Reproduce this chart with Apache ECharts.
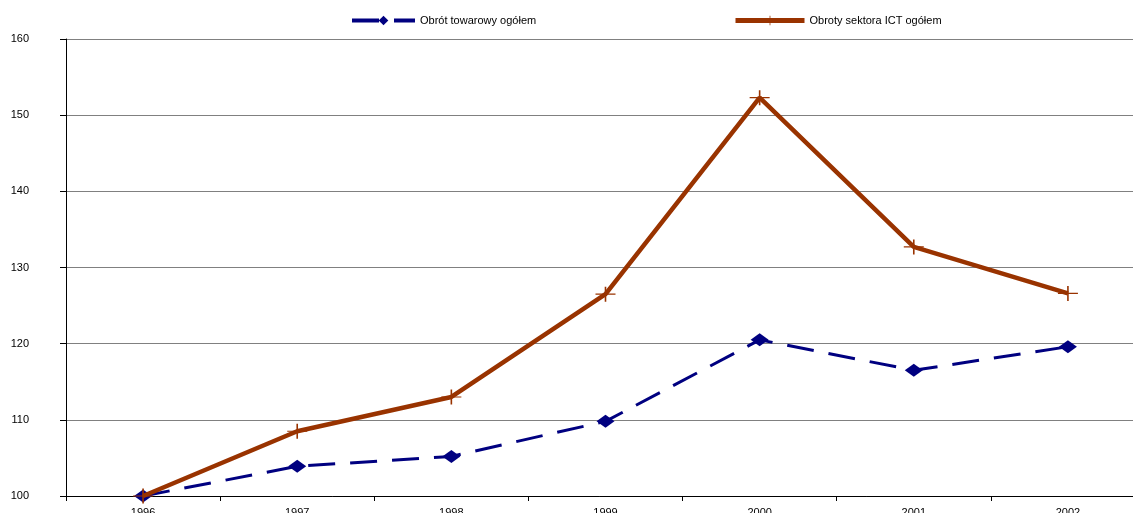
<!DOCTYPE html>
<html>
<head>
<meta charset="utf-8">
<script src="https://cdn.jsdelivr.net/npm/echarts@6/dist/echarts.min.js"></script>
<style>
html,body{margin:0;padding:0;background:#fff;}
#chart{width:1133px;height:513px;}
</style>
</head>
<body>
<div id="chart"></div>
<script>
const categories = ['1996','1997','1998','1999','2000','2001','2002'];
const seriesNames = ['Obrót towarowy ogółem', 'Obroty sektora ICT ogółem'];
const obrotTowarowy = [100, 103.9, 105.2, 109.8, 120.5, 116.5, 119.6];
const obrotyICT = [100, 108.5, 113.0, 126.5, 152.3, 132.7, 126.6];
const yTicks = {min: 100, max: 160, interval: 10};

const plusPath = 'path://M-1,-0.08L1,-0.08L1,0.08L-1,0.08Z M-0.08,-1L0.08,-1L0.08,1L-0.08,1Z';

const chart = echarts.init(document.getElementById('chart'));
chart.setOption({
  animation: false,
  backgroundColor: '#fff',
  textStyle: {fontFamily: 'Liberation Sans, Arial, sans-serif'},
  legend: [
    {
      data: [seriesNames[0]],
      left: 350, top: 15, padding: 0,
      itemWidth: 63, itemHeight: 12,
      itemGap: 0,
      lineStyle: {width: 4},
      textStyle: {fontSize: 11, color: '#000', padding: [0,0,0,0]}
    },
    {
      data: [seriesNames[1]],
      left: 733, top: 15, padding: 0,
      itemWidth: 69, itemHeight: 12,
      itemGap: 0,
      lineStyle: {width: 5},
      textStyle: {fontSize: 11, color: '#000', padding: [0,0,0,0]}
    }
  ],
  grid: {left: 66, top: 39, bottom: 17, right: -12, containLabel: false, outerBoundsMode: 'none'},
  xAxis: {
    type: 'category',
    data: categories,
    boundaryGap: true,
    axisLine: {lineStyle: {color: '#000', width: 1}},
    axisTick: {show: true, inside: false, length: 5, lineStyle: {color: '#000'}},
    axisLabel: {fontSize: 11, color: '#000', margin: 11},
    splitLine: {show: false}
  },
  yAxis: {
    type: 'value',
    min: yTicks.min, max: yTicks.max, interval: yTicks.interval,
    axisLine: {show: true, lineStyle: {color: '#000', width: 1}},
    axisTick: {show: true, length: 6, lineStyle: {color: '#000'}},
    axisLabel: {fontSize: 11, color: '#000', margin: 37, align: 'right'},
    splitLine: {show: true, lineStyle: {color: '#808080', width: 1}}
  },
  series: [
    {
      name: seriesNames[0],
      type: 'line',
      data: obrotTowarowy,
      color: '#000080',
      lineStyle: {color: '#000080', width: 3, type: [27, 15]},
      symbol: 'diamond',
      symbolSize: [18, 13],
      itemStyle: {color: '#000080', borderWidth: 0},
      z: 3
    },
    {
      name: seriesNames[1],
      type: 'line',
      data: obrotyICT,
      color: '#993300',
      lineStyle: {color: '#993300', width: 4.5},
      symbol: plusPath,
      symbolSize: [20, 15],
      itemStyle: {color: '#993300', borderWidth: 0},
      z: 4
    }
  ]
});
</script>
</body>
</html>
